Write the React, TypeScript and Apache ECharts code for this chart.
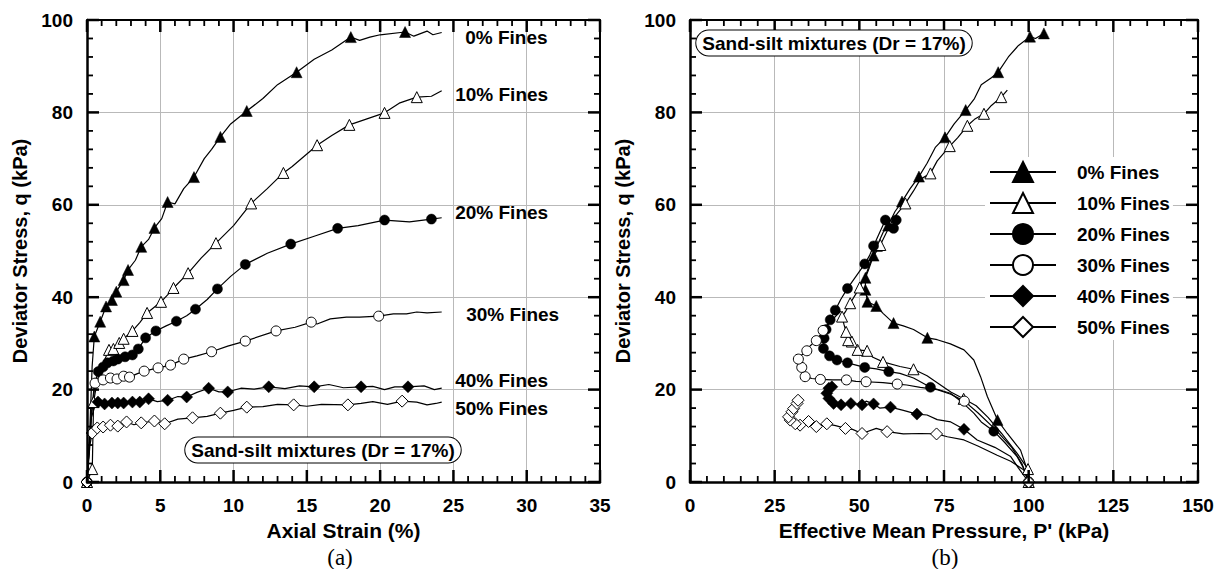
import React, { useEffect, useRef } from 'react';
import * as echarts from 'echarts';

const FONT = '"Liberation Sans", Arial, Helvetica, sans-serif';
const SERIF = '"Liberation Serif", "Times New Roman", serif';

// ---------- series definitions ----------
const seriesNames = ['0% Fines', '10% Fines', '20% Fines', '30% Fines', '40% Fines', '50% Fines'];
const seriesSymbols = ['triangle', 'triangle', 'circle', 'circle', 'diamond', 'diamond'];
const seriesHollow = [false, true, false, true, false, true];

// ---------- axis ranges ----------
const strainAxis = { min: 0, max: 35, interval: 5 };
const pressureAxis = { min: 0, max: 150, interval: 25 };
const stressAxis = { min: 0, max: 100, interval: 20 };

// ---------- (a) axial strain (%) vs deviator stress q (kPa); third value 1 = marker ----------
const strainF0 = [[0,0,1],[0.2,12,0],[0.35,25,0],[0.5,31.5,1],[0.9,34.7,1],[1.3,38,1],[1.7,39.4,1],[2.0,41.2,1],[2.5,43.7,1],[2.8,45.9,1],[3.3,48,0],[3.7,50.9,1],[4.2,52.5,0],[4.6,55,1],[5.1,57,0],[5.5,60.6,1],[6.0,60.2,0],[6.6,63.5,0],[7.3,66,1],[8.0,70,0],[8.5,72,0],[9.1,74.7,1],[9.8,77.5,0],[10.9,80.3,1],[12,83,0],[13,86,0],[14.3,88.7,1],[15.5,91.5,0],[16.7,93.5,0],[18.0,96.3,1],[18.6,95.6,0],[19.3,96.3,0],[20,96.8,0],[21.7,97.4,1],[22.3,96.5,0],[23.2,97.6,0],[23.6,96.8,0],[24.2,97.3,0]];
const strainF10 = [[0,0,1],[0.36,2.8,1],[0.45,17.3,1],[0.7,22,0],[1.0,25,0],[1.5,28.6,1],[1.8,28.8,1],[2.2,30.1,1],[2.5,31,1],[3.1,32.7,1],[3.6,34.5,0],[4.1,36.6,1],[5.05,39,1],[5.5,40.5,0],[5.9,42,1],[6.9,45.2,1],[7.8,48.5,0],[8.8,51.7,1],[10,55.5,0],[11.2,60.3,1],[12.3,63.5,0],[13.4,66.9,1],[14.0,68.3,0],[15.7,72.9,1],[16.7,75,0],[17.9,77.3,1],[19,78.5,0],[20.3,79.9,1],[21.3,82,0],[22.5,83.3,1],[23.5,83.5,0],[24.2,84.7,0]];
const strainF20 = [[0,0,1],[0.3,15,0],[0.5,21,0],[0.77,23.9,1],[1.1,24.9,1],[1.4,25.8,1],[1.8,26.2,1],[2.1,26.6,1],[2.6,27.1,1],[3.1,27.5,1],[3.5,28.8,1],[4.0,31.2,1],[4.7,32.7,1],[5.4,33.8,0],[6.1,34.8,1],[6.8,36,0],[7.4,37.4,1],[8.2,39.5,0],[8.9,41.8,1],[9.8,44.5,0],[10.8,47.1,1],[12.3,49.5,0],[13.9,51.5,1],[15.5,53.2,0],[17.1,54.9,1],[18.5,55.5,0],[20.3,56.7,1],[22,56.3,0],[23.5,56.9,1],[24.2,57.2,0]];
const strainF30 = [[0,0,1],[0.3,14,0],[0.55,21.4,1],[1.1,22.1,1],[1.6,22.5,1],[2.05,22.3,1],[2.5,22.9,1],[2.9,22.7,1],[3.4,23.4,0],[3.9,24.0,1],[4.85,24.7,1],[5.7,25.3,1],[6.6,26.6,1],[7.5,27.3,0],[8.5,28.2,1],[9.6,29.4,0],[10.8,30.5,1],[12.9,32.7,1],[14.2,33.5,0],[15.3,34.6,1],[15.7,34.2,0],[16.6,35.3,0],[17.7,35.7,0],[18.6,35.7,0],[19.9,35.9,1],[20.9,36.4,0],[21.8,36.4,0],[22.5,36.8,0],[23.2,36.6,0],[24.2,36.8,0]];
const strainF40 = [[0,0,1],[0.2,10,0],[0.3,14,0],[0.5,16,0],[0.75,17.3,1],[1.2,16.9,1],[1.7,17.1,1],[2.1,17.1,1],[2.5,17.1,1],[3.1,17.3,1],[3.6,17.3,1],[4.2,18.0,1],[4.8,17.4,0],[5.5,17.7,1],[6.2,18.5,0],[6.8,18.4,1],[7.5,19.4,0],[8.3,20.3,1],[9.0,19.5,0],[9.6,19.5,1],[10.5,20.3,0],[11.4,20.1,0],[12.4,20.6,1],[13.5,20.2,0],[14.5,20.8,0],[15.5,20.6,1],[16.5,21.1,0],[17.5,20.4,0],[18.7,20.6,1],[19.5,20.7,0],[20.3,20.0,0],[21.0,20.6,0],[21.9,20.6,1],[23,20.8,0],[23.7,20.0,0],[24.2,20.3,0]];
const strainF50 = [[0,0,1],[0.2,8,0],[0.35,10.6,1],[0.7,11.7,1],[1.1,11.9,1],[1.6,12.3,1],[2.1,12.1,1],[2.7,13.0,1],[3.2,12.4,0],[3.7,12.8,1],[4.6,13.2,1],[5.3,12.6,1],[6.2,13.6,0],[7.2,13.9,1],[8.2,14.2,0],[9.1,14.9,1],[10,15.5,0],[10.9,16.2,1],[12,16.3,0],[13,16.8,0],[14.1,16.7,1],[15,16.4,0],[16,16.8,0],[17.8,16.7,1],[18.7,17.0,0],[19.5,17.4,0],[20.5,16.8,0],[21.5,17.5,1],[22.5,17.3,0],[23.2,16.7,0],[23.8,17.0,0],[24.2,17.3,0]];

// ---------- (b) effective mean pressure P' (kPa) vs deviator stress q (kPa) ----------
const pathF0 = [[100,0,1],[99.6,2.6,0],[97.6,6.9,0],[93.7,10.5,0],[90.8,13.4,1],[87.8,18.5,0],[85.8,22.8,0],[83.8,26.4,0],[80.9,28.6,0],[76.9,29.9,0],[73,30.8,0],[70.1,31.2,1],[66,33,0],[63,33.8,0],[60.1,34.4,1],[57,36.5,0],[55,38.1,1],[52.4,39,1],[51.8,41.6,1],[51.8,44.2,1],[53,46.5,0],[54.2,49,1],[55.2,51.1,1],[57,54,0],[58.5,55.5,1],[60.5,58.5,0],[62.6,60.7,1],[65,63.5,0],[67.6,66.1,1],[70,69,0],[72.5,72.5,0],[75.3,74.6,1],[78,77.5,0],[81.4,80.5,1],[84,83,0],[86,86,0],[89,87.5,0],[91,88.7,1],[94,92,0],[97,94.5,0],[100.4,96.4,1],[102,96,0],[104.5,97.1,1]];
const pathF10 = [[100,0,1],[99.8,2.8,1],[96.6,6.2,0],[92,10.5,0],[88,14,0],[84.5,16.5,0],[80.8,18.0,1],[77,19.5,0],[73,21.5,0],[70,23,0],[66,24.4,1],[62,25,0],[57,26,1],[54,27,0],[52.3,28.4,1],[49.5,28.6,1],[47.8,30.4,1],[46.7,30.7,1],[46.1,32.5,1],[45.5,34,0],[44.9,35.8,1],[46,37,0],[47.3,38.7,1],[48.8,40.5,0],[50.1,42.1,1],[52,45,0],[53.5,48,0],[56.2,51.3,1],[58,54,0],[60,57,0],[63.6,60.3,1],[66,63,0],[68,65.5,0],[71,66.8,1],[73,69.5,0],[76.7,72.7,1],[79,74.5,0],[81.9,77.1,1],[84,78.5,0],[86.8,79.7,1],[89,81.5,0],[91.9,83.3,1],[93.7,84.8,0]];
const pathF20 = [[100,0,1],[98.5,3,0],[96.6,5.5,0],[93,8.5,0],[89.7,11.0,1],[86,13,0],[83.8,14.9,0],[80,17.5,0],[76.9,19.2,0],[71.0,20.5,1],[66,22.5,0],[62,23.5,0],[58.7,23.9,1],[55,24.5,0],[51.6,24.8,1],[46.5,25.8,1],[43.4,26.4,1],[41.2,27.3,1],[39.4,28.9,1],[39.6,31.1,1],[40.2,33.0,1],[41.4,35.1,1],[42.9,37.2,1],[44.5,39.5,0],[46.5,41.9,1],[49,44.5,0],[51.6,47.2,1],[53,49,0],[54.2,51.1,1],[56,54,0],[57.7,56.7,1],[59,55.5,0],[60.1,54.9,1],[60.9,56.7,1]];
const pathF30 = [[100,0,1],[98,4,0],[95,7.5,0],[90,11.5,0],[85,15,0],[81,17.5,1],[77,19,0],[73,20,0],[68,20.5,0],[64,21,0],[61.2,21.2,1],[57,21.5,0],[52.0,21.7,1],[49,21.8,0],[46.2,22.1,1],[42,22.1,0],[38.5,22.2,1],[36,22.4,0],[34.0,22.8,1],[33.2,24,0],[33.0,24.8,1],[32.0,26.6,1],[33,27.5,0],[34.5,28.4,1],[35.5,29.5,0],[37.3,30.6,1],[39.3,32.8,1],[41,34.5,0],[42.5,35.5,0],[44.5,37,0]];
const pathF40 = [[100,0,1],[97,3,0],[94.7,5.5,0],[90,7.5,0],[84.8,9.1,0],[80.9,11.4,1],[77,13,0],[73,13.5,0],[70,14.5,0],[67,14.7,1],[63,15.5,0],[59.2,16.2,1],[56,16,0],[54.2,16.9,1],[52,17.5,0],[50.8,16.7,1],[47.5,17.0,1],[44.6,16.7,1],[42.4,17.0,1],[41.0,18.1,1],[40.4,19.2,1],[41.0,20.3,1],[41.9,20.6,1]];
const pathF50 = [[100,0,1],[98.6,2.6,0],[94.7,4.5,0],[90.7,5.8,0],[85,7.8,0],[80.9,9.1,0],[76,9.8,0],[72.8,10.4,1],[68,10.5,0],[63,10.4,0],[58.2,10.9,1],[55,11.6,0],[50.8,10.5,1],[48,11.4,0],[45.9,11.6,1],[43,12.2,0],[40.4,12.6,1],[37.3,12.0,1],[35.0,13.1,1],[32.5,12.3,1],[31.1,12.6,1],[29.6,13.4,1],[29.1,14.1,1],[30.1,15.2,1],[30.6,15.9,1],[31.6,17.0,1],[31.9,17.7,1]];

const strainCurves = [strainF0, strainF10, strainF20, strainF30, strainF40, strainF50];
const pathCurves = [pathF0, pathF10, pathF20, pathF30, pathF40, pathF50];

const annotationText = 'Sand-silt mixtures (Dr = 17%)';

// label offsets (px) relative to the end of each strain curve
const labelOffsets = [[23, 5], [13, 4], [13, -5], [24, 3], [13, -8], [13, 6]];
const markerSizes = [11, 11, 10, 10, 12, 12];

function toData(pts: number[][]) {
  return pts.map((p) => (p[2] ? [p[0], p[1]] : { value: [p[0], p[1]], symbol: 'none' }));
}

function makeSeries(i: number, pts: number[][], xIdx: number, yIdx: number, withLabel: boolean) {
  const last = pts[pts.length - 1];
  const s: any = {
    type: 'line',
    name: seriesNames[i],
    xAxisIndex: xIdx,
    yAxisIndex: yIdx,
    data: toData(pts),
    symbol: seriesSymbols[i],
    symbolSize: markerSizes[i],
    showSymbol: true,
    showAllSymbol: true,
    silent: true,
    lineStyle: { color: '#000', width: 1.2 },
    itemStyle: seriesHollow[i]
      ? { color: '#fff', borderColor: '#000', borderWidth: 1 }
      : { color: '#000', borderColor: '#000', borderWidth: 0.5 },
  };
  if (withLabel) {
    s.markPoint = {
      symbol: 'circle',
      symbolSize: 1,
      silent: true,
      itemStyle: { color: 'rgba(0,0,0,0)' },
      data: [
        {
          coord: [last[0], last[1]],
          label: {
            show: true,
            position: 'right',
            distance: 0,
            offset: labelOffsets[i],
            formatter: seriesNames[i],
            color: '#000',
            fontFamily: FONT,
            fontWeight: 'bold',
            fontSize: 19,
          },
        },
      ],
    };
  }
  return s;
}

const GRID_COLOR = '#b9b9b9';

// frame axes (line + labels); ticks are drawn by the tick series below
function ax(range: any, gridIndex: number, position: string, lineWidth: number, extra: any) {
  return {
    type: 'value',
    gridIndex,
    position,
    z: 5,
    min: range.min,
    max: range.max,
    interval: range.interval,
    axisLine: { show: true, onZero: false, lineStyle: { color: '#000', width: lineWidth } },
    axisTick: { show: false },
    minorTick: { show: false },
    splitLine: { show: false },
    axisLabel: { show: false },
    ...extra,
  };
}

function named(name: string, nameGap: number, nameSize: number) {
  return {
    name,
    nameLocation: 'middle',
    nameGap,
    nameTextStyle: { fontFamily: FONT, fontWeight: 'bold', fontSize: nameSize, color: '#000' },
    axisLabel: { show: true, margin: 14, fontFamily: FONT, fontWeight: 'bold', fontSize: 19, color: '#000' },
  };
}

// hidden axes on an overlapping grid, used only to draw the grey grid lines
function gridLineAxis(range: any, gridIndex: number) {
  return {
    type: 'value',
    gridIndex,
    min: range.min,
    max: range.max,
    interval: range.interval,
    axisLine: { show: false },
    axisTick: { show: false },
    minorTick: { show: false },
    axisLabel: { show: false },
    splitLine: { show: true, lineStyle: { color: GRID_COLOR, width: 1 } },
  };
}

// tick positions (major every interval, 4 minor between), derived from the axis ranges
function tickValues(kind: number, r: any) {
  const out: number[][] = [];
  const step = r.interval / 5;
  const n = Math.round((r.max - r.min) / step);
  for (let k = 0; k <= n; k++) out.push([kind, r.min + k * step, k % 5 === 0 ? 1 : 0]);
  return out;
}

// inward ticks on all four sides of a plot frame, placed with the axes' own scales
function tickSeries(xr: any, yr: any, axisIdx: number) {
  const data = [...tickValues(0, xr), ...tickValues(1, yr)];
  return {
    type: 'custom',
    xAxisIndex: axisIdx,
    yAxisIndex: axisIdx,
    silent: true,
    clip: false,
    z: 6,
    data,
    renderItem: (params: any, api: any) => {
      const kind = api.value(0);
      const v = api.value(1);
      const major = api.value(2) === 1;
      const len = major ? 12 : 6;
      const style = { stroke: '#000', lineWidth: major ? 2.5 : 1.8 };
      if (kind === 0) {
        const b = api.coord([v, yr.min]);
        const t = api.coord([v, yr.max]);
        return {
          type: 'group',
          children: [
            { type: 'line', shape: { x1: b[0], y1: b[1], x2: b[0], y2: b[1] - len }, style },
            { type: 'line', shape: { x1: t[0], y1: t[1], x2: t[0], y2: t[1] + len }, style },
          ],
        };
      }
      const l = api.coord([xr.min, v]);
      const r = api.coord([xr.max, v]);
      return {
        type: 'group',
        children: [
          { type: 'line', shape: { x1: l[0], y1: l[1], x2: l[0] + len, y2: l[1] }, style },
          { type: 'line', shape: { x1: r[0], y1: r[1], x2: r[0] - len, y2: r[1] }, style },
        ],
      };
    },
  };
}

function boxText(x: number, y: number) {
  return {
    type: 'text',
    x,
    y,
    z: 10,
    style: {
      text: annotationText,
      font: `bold 19px ${FONT}`,
      fill: '#000',
      align: 'center',
      verticalAlign: 'middle',
      backgroundColor: '#fff',
      borderColor: '#000',
      borderWidth: 1,
      borderRadius: 13,
      padding: [3, 6, 3, 6],
    },
  };
}

export default function App() {
  const ref = useRef<HTMLDivElement>(null);
  useEffect(() => {
    if (!ref.current) return;
    const chart = echarts.init(ref.current, undefined, { renderer: 'svg' });
    const series: any[] = [];
    strainCurves.forEach((c, i) => series.push(makeSeries(i, c, 0, 0, true)));
    pathCurves.forEach((c, i) => series.push(makeSeries(i, c, 2, 2, false)));
    series.push(tickSeries(strainAxis, stressAxis, 0));
    series.push(tickSeries(pressureAxis, stressAxis, 2));

    chart.setOption({
      animation: false,
      grid: [
        { left: 87, top: 20, width: 513, height: 462 },
        { left: 690, top: 20, width: 508, height: 462 },
        { left: 87, top: 20, width: 513, height: 462 },
        { left: 690, top: 20, width: 508, height: 462 },
      ],
      xAxis: [
        ax(strainAxis, 0, 'bottom', 2.5, named('Axial Strain (%)', 33, 21)),
        ax(strainAxis, 0, 'top', 2, {}),
        ax(pressureAxis, 1, 'bottom', 2.5, named("Effective Mean Pressure, P' (kPa)", 33, 21)),
        ax(pressureAxis, 1, 'top', 2, {}),
        gridLineAxis(strainAxis, 2),
        gridLineAxis(pressureAxis, 3),
      ],
      yAxis: [
        ax(stressAxis, 0, 'left', 2.5, named('Deviator Stress, q (kPa)', 57, 20)),
        ax(stressAxis, 0, 'right', 2, {}),
        ax(stressAxis, 1, 'left', 2.5, named('Deviator Stress, q (kPa)', 57, 20)),
        ax(stressAxis, 1, 'right', 2, {}),
        gridLineAxis(stressAxis, 2),
        gridLineAxis(stressAxis, 3),
      ],
      legend: {
        show: true,
        orient: 'vertical',
        left: 985,
        top: 157,
        padding: [4, 3, 2, 4],
        itemWidth: 66,
        itemHeight: 25,
        itemGap: 9,
        backgroundColor: '#fff',
        selectedMode: false,
        data: seriesNames,
        textStyle: { fontFamily: FONT, fontWeight: 'bold', fontSize: 19, color: '#000', padding: [0, 0, 0, 16] },
      },
      graphic: [
        boxText(323, 450),
        boxText(834, 43),
        {
          type: 'text',
          x: 340,
          y: 557,
          style: { text: '(a)', font: `23px ${SERIF}`, fill: '#000', align: 'center', verticalAlign: 'middle' },
        },
        {
          type: 'text',
          x: 945,
          y: 557,
          style: { text: '(b)', font: `23px ${SERIF}`, fill: '#000', align: 'center', verticalAlign: 'middle' },
        },
      ],
      series,
    });
    return () => chart.dispose();
  }, []);
  return (
    <div
      ref={ref}
      style={{ position: 'fixed', left: 0, top: 0, width: 1223, height: 569, background: '#fff' }}
    />
  );
}
